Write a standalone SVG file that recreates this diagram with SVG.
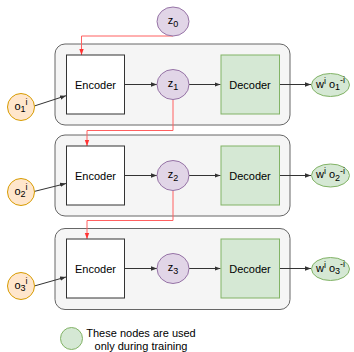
<svg xmlns="http://www.w3.org/2000/svg" width="354" height="352" viewBox="0 0 354 352">
<defs>
<style>
text{font-family:"Liberation Sans",Arial,sans-serif;font-size:11px;fill:#000;text-anchor:middle}
.sm{font-size:9px}
.cont{fill:#f5f5f5;stroke:#666;stroke-width:1}
.enc{fill:#fff;stroke:#333;stroke-width:1}
.dec{fill:#d5e8d4;stroke:#82b366;stroke-width:1}
.z{fill:#e1d5e7;stroke:#9673a6;stroke-width:1}
.o{fill:#ffe6cc;stroke:#d79b00;stroke-width:1}
.out{fill:#d5e8d4;stroke:#82b366;stroke-width:1}
.e{fill:none;stroke:#333;stroke-width:1;marker-end:url(#ah)}
.r{fill:none;stroke:#ff6060;stroke-width:1;marker-end:url(#ahr)}
</style>
<marker id="ah" viewBox="0 0 6 6" refX="6" refY="3" markerWidth="6" markerHeight="6" markerUnits="userSpaceOnUse" orient="auto"><path d="M0,0.8 L6,3 L0,5.2 Z" fill="#333"/></marker>
<marker id="ahr" viewBox="0 0 6 6" refX="6" refY="3" markerWidth="6" markerHeight="6" markerUnits="userSpaceOnUse" orient="auto"><path d="M0,0.8 L6,3 L0,5.2 Z" fill="#ff3333"/></marker>
</defs>
<g id="container1"><rect class="cont" x="55" y="44" width="235" height="81" rx="10"/></g>
<g id="container2"><rect class="cont" x="55" y="135" width="235" height="81" rx="10"/></g>
<g id="container3"><rect class="cont" x="55" y="228.5" width="235" height="81" rx="10"/></g>
<g id="connectors">
<path class="r" d="M173,36 H81.5 V55"/>
<path class="r" d="M173,99.5 V130.5 H87 V146"/>
<path class="r" d="M173,190.5 V220.5 H87 V239"/>
<path class="e" d="M124.5,84.5 H157"/>
<path class="e" d="M189,84.5 H220.5"/>
<path class="e" d="M279.5,84.5 H311"/>
<path class="e" d="M124.5,175.5 H157"/>
<path class="e" d="M189,175.5 H220.5"/>
<path class="e" d="M279.5,175.5 H311"/>
<path class="e" d="M124.5,268.5 H157"/>
<path class="e" d="M189,268.5 H220.5"/>
<path class="e" d="M279.5,268.5 H311"/>
<path class="e" d="M34.3,106 L66,95.7"/>
<path class="e" d="M34,191.5 L66,183.5"/>
<path class="e" d="M34.3,286 L66,277"/>
</g>
<g id="z0"><ellipse class="z" cx="173" cy="21.5" rx="16" ry="14.5"/><text x="173" y="24">z<tspan class="sm" dy="3">0</tspan></text></g>
<g id="encoder1"><rect class="enc" x="66.5" y="55" width="58" height="59"/><text x="95.5" y="88.5">Encoder</text></g>
<g id="z1"><ellipse class="z" cx="173" cy="84.5" rx="16" ry="15"/><text x="173" y="87">z<tspan class="sm" dy="3">1</tspan></text></g>
<g id="decoder1"><rect class="dec" x="221" y="55" width="58.5" height="59"/><text x="250" y="88.5">Decoder</text></g>
<g id="out1"><ellipse class="out" cx="330.5" cy="85" rx="19" ry="11.5"/><text x="330.5" y="87.5">w<tspan class="sm" dy="-4">i</tspan><tspan dy="4"> o</tspan><tspan class="sm" dy="2.5">1</tspan><tspan class="sm" dy="-7">-i</tspan></text></g>
<g id="o1"><circle class="o" cx="21" cy="107" r="13.5"/><text x="21" y="109.5">o<tspan class="sm" dy="2.5">1</tspan><tspan class="sm" dy="-7.5">i</tspan></text></g>
<g id="encoder2"><rect class="enc" x="66.5" y="146" width="58" height="59"/><text x="95.5" y="179.5">Encoder</text></g>
<g id="z2"><ellipse class="z" cx="173" cy="175.5" rx="16" ry="15"/><text x="173" y="178">z<tspan class="sm" dy="3">2</tspan></text></g>
<g id="decoder2"><rect class="dec" x="221" y="146" width="58.5" height="59"/><text x="250" y="179.5">Decoder</text></g>
<g id="out2"><ellipse class="out" cx="330.5" cy="175.5" rx="19" ry="11.5"/><text x="330.5" y="178">w<tspan class="sm" dy="-4">i</tspan><tspan dy="4"> o</tspan><tspan class="sm" dy="2.5">2</tspan><tspan class="sm" dy="-7">-i</tspan></text></g>
<g id="o2"><circle class="o" cx="21" cy="192" r="13.5"/><text x="21" y="194.5">o<tspan class="sm" dy="2.5">2</tspan><tspan class="sm" dy="-7.5">i</tspan></text></g>
<g id="encoder3"><rect class="enc" x="66.5" y="239" width="58" height="59"/><text x="95.5" y="272.5">Encoder</text></g>
<g id="z3"><ellipse class="z" cx="173" cy="268.5" rx="16" ry="15"/><text x="173" y="271">z<tspan class="sm" dy="3">3</tspan></text></g>
<g id="decoder3"><rect class="dec" x="221" y="239" width="58.5" height="59"/><text x="250" y="272.5">Decoder</text></g>
<g id="out3"><ellipse class="out" cx="330.5" cy="269" rx="19" ry="11.5"/><text x="330.5" y="271.5">w<tspan class="sm" dy="-4">i</tspan><tspan dy="4"> o</tspan><tspan class="sm" dy="2.5">3</tspan><tspan class="sm" dy="-7">-i</tspan></text></g>
<g id="o3"><circle class="o" cx="21" cy="286" r="13.5"/><text x="21" y="288.5">o<tspan class="sm" dy="2.5">3</tspan><tspan class="sm" dy="-7.5">i</tspan></text></g>
<g id="legend"><circle class="out" cx="71.5" cy="338.5" r="11"/><text x="141" y="336.5">These nodes are used</text><text x="141" y="349.5">only during training</text></g>
</svg>
